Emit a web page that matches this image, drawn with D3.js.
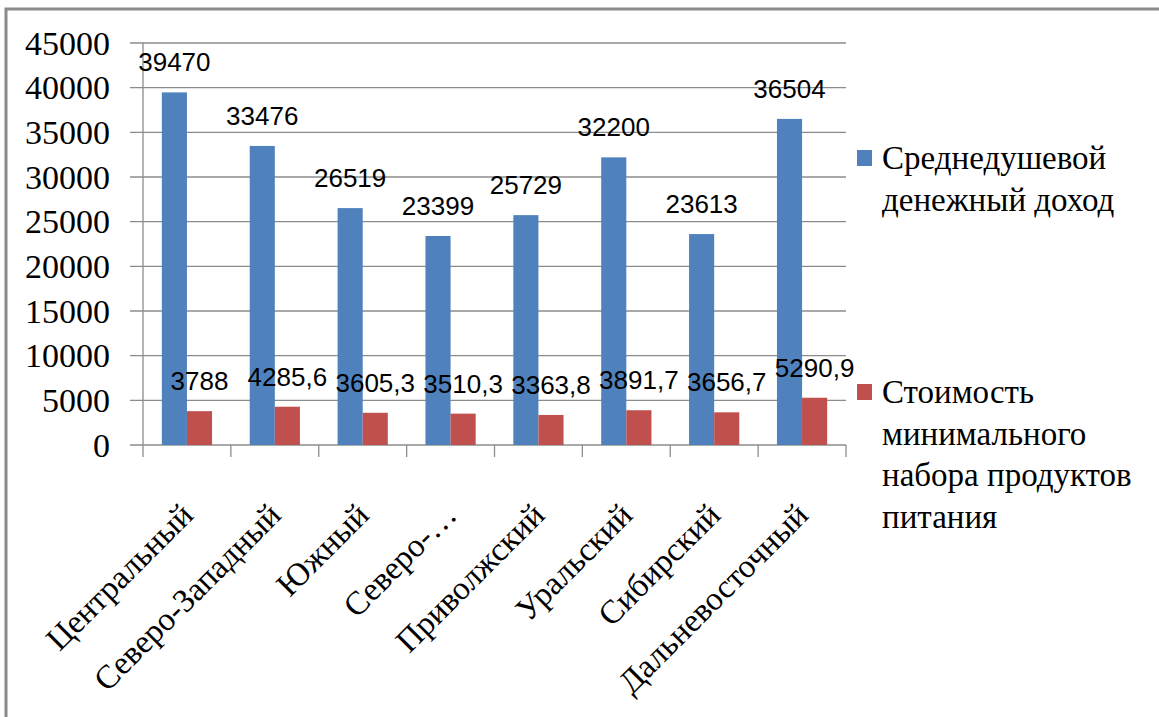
<!DOCTYPE html>
<html>
<head>
<meta charset="utf-8">
<script src="https://cdn.jsdelivr.net/npm/d3@7"></script>
<style>
  html, body { margin: 0; padding: 0; background: #fff; overflow: hidden; }
  svg { display: block; }
</style>
</head>
<body>
<div id="chart"></div>
<script>
// Данные по федеральным округам
const regions = ["Центральный", "Северо-Западный", "Южный", "Северо-…", "Приволжский", "Уральский", "Сибирский", "Дальневосточный"];
const income = [39470, 33476, 26519, 23399, 25729, 32200, 23613, 36504];
const foodCost = [3788, 4285.6, 3605.3, 3510.3, 3363.8, 3891.7, 3656.7, 5290.9];
const yTicks = [0, 5000, 10000, 15000, 20000, 25000, 30000, 35000, 40000, 45000];
const legendLines = [
    ["Среднедушевой", "денежный доход"],
    ["Стоимость", "минимального", "набора продуктов", "питания"]
];

const W = 1159, H = 717;
const colors = ["#4F81BD", "#C0504D"];

const svg = d3.select("#chart").append("svg")
    .attr("width", W)
    .attr("height", H);

// рамка области диаграммы
svg.append("rect")
    .attr("x", 6).attr("y", 9)
    .attr("width", 1300).attr("height", 900)
    .attr("fill", "none")
    .attr("stroke", "#8a8a8a")
    .attr("stroke-width", 3);

const plot = { left: 143, right: 846, top: 43, bottom: 445 };

const x = d3.scaleBand()
    .domain(regions)
    .range([plot.left, plot.right]);

const y = d3.scaleLinear()
    .domain([0, 45000])
    .range([plot.bottom, plot.top]);

// сетка
svg.append("g")
    .selectAll("line")
    .data(yTicks)
    .enter()
    .append("line")
    .attr("x1", plot.left - 13)
    .attr("x2", plot.right)
    .attr("y1", d => y(d))
    .attr("y2", d => y(d))
    .attr("stroke", "#8c8c8c")
    .attr("stroke-width", 1.3);

// ось Y
svg.append("line")
    .attr("x1", plot.left).attr("x2", plot.left)
    .attr("y1", plot.top).attr("y2", plot.bottom)
    .attr("stroke", "#8c8c8c")
    .attr("stroke-width", 1.3);

svg.append("g")
    .selectAll("text")
    .data(yTicks)
    .enter()
    .append("text")
    .attr("x", plot.left - 33)
    .attr("y", d => y(d))
    .attr("dy", "0.34em")
    .attr("text-anchor", "end")
    .style("font", "34px 'Liberation Serif'")
    .style("fill", "#000")
    .text(d => d);

// засечки оси X
const xTickPos = regions.map(r => x(r)).concat([plot.right]);
svg.append("g")
    .selectAll("line")
    .data(xTickPos)
    .enter()
    .append("line")
    .attr("x1", d => d).attr("x2", d => d)
    .attr("y1", plot.bottom).attr("y2", plot.bottom + 12)
    .attr("stroke", "#8c8c8c")
    .attr("stroke-width", 1.3);

// столбцы
const barW = x.bandwidth() / 3.5;
const groupOff = (x.bandwidth() - 2 * barW) / 2;
const series = [income, foodCost];

series.forEach((vals, si) => {
    const rows = regions.map((r, i) => ({ region: r, value: vals[i] }));
    svg.append("g")
        .selectAll("rect")
        .data(rows)
        .enter()
        .append("rect")
        .attr("x", d => x(d.region) + groupOff + si * barW)
        .attr("y", d => y(d.value))
        .attr("width", barW)
        .attr("height", d => y(0) - y(d.value))
        .attr("fill", colors[si]);

    svg.append("g")
        .selectAll("text")
        .data(rows)
        .enter()
        .append("text")
        .attr("x", d => x(d.region) + groupOff + si * barW + barW / 2)
        .attr("y", d => y(d.value) - 21)
        .attr("text-anchor", "middle")
        .style("font", "26px 'Liberation Sans'")
        .style("fill", "#000")
        .text(d => String(d.value).replace(".", ","));
});

// подписи категорий
svg.append("g")
    .selectAll("text")
    .data(regions)
    .enter()
    .append("text")
    .attr("transform", d => `translate(${x(d) + x.bandwidth() / 2 + 8},${plot.bottom + 72}) rotate(-45)`)
    .attr("text-anchor", "end")
    .style("font", "33px 'Liberation Serif'")
    .style("fill", "#000")
    .text(d => d);

// легенда
const legendTop = [169, 403];

legendLines.forEach((lines, i) => {
    const g = svg.append("g");
    g.append("rect")
        .attr("x", 857)
        .attr("y", legendTop[i] - 19)
        .attr("width", 15)
        .attr("height", 16)
        .attr("fill", colors[i]);
    g.selectAll("text")
        .data(lines)
        .enter()
        .append("text")
        .attr("x", 882)
        .attr("y", (d, j) => legendTop[i] + j * 41.5)
        .style("font", "33px 'Liberation Serif'")
        .style("fill", "#000")
        .text(d => d);
});
</script>
</body>
</html>
